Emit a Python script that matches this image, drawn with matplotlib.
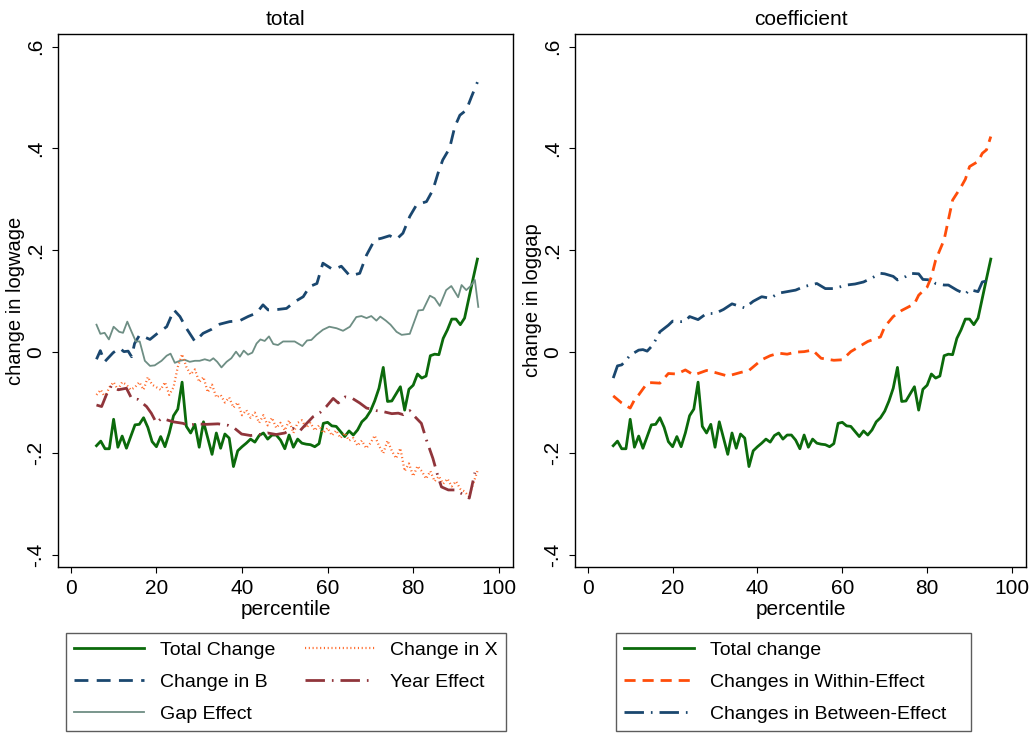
import matplotlib
matplotlib.use("Agg")
import matplotlib.pyplot as plt

plt.rcParams['font.family'] = ['Liberation Sans', 'DejaVu Sans']

# percentiles 6..95 for the dense series
pct = list(range(6, 96))

total_change = [
    -0.185, -0.176, -0.191, -0.191, -0.133, -0.188, -0.166, -0.190, -0.167, -0.144,
    -0.143, -0.130, -0.149, -0.177, -0.187, -0.167, -0.187, -0.160, -0.126, -0.113,
    -0.060, -0.147, -0.160, -0.143, -0.188, -0.138, -0.170, -0.202, -0.160, -0.190,
    -0.162, -0.170, -0.226, -0.195, -0.187, -0.180, -0.172, -0.178, -0.165, -0.160,
    -0.172, -0.164, -0.164, -0.174, -0.191, -0.164, -0.188, -0.172, -0.180, -0.182,
    -0.183, -0.187, -0.181, -0.141, -0.139, -0.146, -0.147, -0.157, -0.167, -0.156,
    -0.164, -0.154, -0.138, -0.130, -0.117, -0.097, -0.072, -0.031, -0.098, -0.097,
    -0.083, -0.069, -0.115, -0.074, -0.066, -0.044, -0.052, -0.048, -0.008, -0.005,
    -0.006, 0.026, 0.043, 0.064, 0.064, 0.053, 0.066, 0.105, 0.144, 0.182]

change_x = [
    -0.085, -0.075, -0.090, -0.070, -0.060, -0.075, -0.060, -0.065, -0.075, -0.070,
    -0.060, -0.075, -0.050, -0.065, -0.070, -0.075, -0.060, -0.085, -0.070, -0.030,
    -0.005, -0.030, -0.045, -0.035, -0.060, -0.050, -0.080, -0.065, -0.090, -0.085,
    -0.100, -0.090, -0.110, -0.100, -0.125, -0.115, -0.130, -0.120, -0.140, -0.125,
    -0.145, -0.130, -0.150, -0.140, -0.155, -0.135, -0.160, -0.140, -0.135, -0.150,
    -0.140, -0.155, -0.145, -0.160, -0.150, -0.165, -0.155, -0.170, -0.160, -0.175,
    -0.170, -0.185, -0.175, -0.190, -0.180, -0.165, -0.185, -0.200, -0.175, -0.195,
    -0.210, -0.190, -0.235, -0.220, -0.245, -0.225, -0.235, -0.250, -0.235, -0.255,
    -0.245, -0.260, -0.250, -0.265, -0.255, -0.270, -0.275, -0.285, -0.260, -0.235]

b_pct = [6, 6.9, 7.9, 9.9, 11.4, 12.4, 13.4, 14.2, 14.9, 16.1, 18.5, 20.4, 22.4, 24.1,
         25.5, 27.0, 29.0, 30.9, 32.9, 34.8, 37.1, 39.5, 41.4, 43.4, 44.9, 46.1, 48.4,
         50.4, 52.3, 54.3, 55.8, 57.5, 58.9, 61.3, 63.2, 65.2, 67.5, 69.1, 71.0, 72.6,
         74.5, 76.1, 77.6, 79.2, 80.8, 83.1, 84.6, 85.8, 86.9, 88.5, 89.7, 90.9, 92.4,
         93.6, 95]
change_b = [-0.015, 0.002, -0.020, -0.002, 0.007, 0.000, 0.001, -0.010, 0.016, 0.033,
            0.024, 0.037, 0.049, 0.082, 0.069, 0.046, 0.020, 0.036, 0.044, 0.054,
            0.059, 0.061, 0.069, 0.076, 0.092, 0.082, 0.083, 0.085, 0.098, 0.108,
            0.128, 0.134, 0.174, 0.161, 0.168, 0.149, 0.154, 0.190, 0.220, 0.223,
            0.228, 0.221, 0.233, 0.266, 0.289, 0.295, 0.318, 0.351, 0.377, 0.400,
            0.442, 0.465, 0.475, 0.501, 0.530]

gap_pct = [6.0, 6.9, 7.9, 8.9, 10.0, 11.3, 12.2, 13.2, 14.2, 15.2, 16.1, 17.3, 18.5,
           19.6, 21.2, 22.4, 23.3, 24.3, 25.5, 26.6, 27.8, 29.0, 30.1, 31.3, 32.5,
           33.3, 34.2, 35.2, 36.4, 37.5, 38.6, 39.5, 40.4, 41.4, 42.4, 43.4, 44.3,
           45.3, 46.3, 47.3, 48.4, 49.6, 51.2, 52.3, 54.1, 55.2, 56.2, 57.4, 58.9,
           60.4, 62.1, 63.6, 65.2, 66.7, 67.9, 69.1, 70.2, 71.4, 72.3, 73.6, 74.7,
           76.1, 77.3, 79.2, 81.2, 82.3, 83.9, 85.0, 86.2, 87.7, 88.9, 90.5, 91.3,
           92.4, 93.4, 94.4, 95.2]
gap_effect = [0.053, 0.035, 0.037, 0.024, 0.049, 0.039, 0.037, 0.059, 0.039, 0.020,
              0.020, -0.018, -0.028, -0.027, -0.018, -0.008, -0.004, -0.022, -0.018,
              -0.016, -0.020, -0.018, -0.018, -0.015, -0.018, -0.013, -0.020, -0.031,
              -0.020, -0.013, 0.000, -0.010, 0.002, -0.006, -0.002, 0.016, 0.024,
              0.021, 0.030, 0.015, 0.013, 0.020, 0.020, 0.020, 0.011, 0.022, 0.023,
              0.033, 0.043, 0.049, 0.046, 0.041, 0.049, 0.068, 0.070, 0.066, 0.070,
              0.061, 0.069, 0.061, 0.053, 0.039, 0.033, 0.035, 0.081, 0.082, 0.110,
              0.105, 0.090, 0.121, 0.129, 0.107, 0.131, 0.121, 0.129, 0.141, 0.088]

year_pct = [6.0, 7.2, 8.3, 9.5, 11.1, 13.0, 14.2, 15.7, 17.7, 18.8, 20.0, 21.2, 23.9,
            26.2, 27.4, 29.4, 31.7, 34.4, 36.8, 38.3, 39.9, 42.0, 44.0, 46.0, 48.0,
            50.0, 51.9, 53.5, 55.0, 56.6, 58.2, 59.7, 61.3, 62.5, 64.1, 65.8, 67.5,
            69.1, 70.2, 71.4, 73.0, 75.0, 76.5, 77.7, 79.2, 80.4, 81.9, 83.1, 84.6,
            85.8, 86.6, 88.2, 89.7, 91.5, 93.1, 94.4]
year_effect = [-0.105, -0.108, -0.085, -0.067, -0.075, -0.072, -0.092, -0.094, -0.108,
               -0.121, -0.140, -0.131, -0.138, -0.141, -0.145, -0.142, -0.143, -0.142,
               -0.145, -0.151, -0.162, -0.165, -0.163, -0.160, -0.163, -0.160, -0.151,
               -0.156, -0.142, -0.128, -0.120, -0.108, -0.092, -0.101, -0.089, -0.092,
               -0.101, -0.111, -0.113, -0.116, -0.118, -0.122, -0.121, -0.124, -0.116,
               -0.128, -0.141, -0.174, -0.210, -0.246, -0.266, -0.272, -0.272, -0.280,
               -0.288, -0.238]

within_pct = [6, 8, 10, 11, 12, 14, 15, 17, 19, 21, 23, 25, 28, 30, 33, 36, 38, 41, 43,
              45, 47, 49, 51, 53, 55, 58, 60, 62, 64, 66, 69, 70, 72, 74, 77, 78, 80,
              81, 82, 84, 85, 86, 88, 89, 90, 92, 93, 94, 95]
within_effect = [-0.087, -0.101, -0.111, -0.095, -0.085, -0.062, -0.061, -0.062, -0.043,
                 -0.044, -0.036, -0.046, -0.037, -0.041, -0.048, -0.041, -0.037, -0.016,
                 -0.008, -0.003, -0.005, -0.001, 0.000, 0.003, -0.013, -0.017, -0.016,
                 0.000, 0.010, 0.020, 0.029, 0.049, 0.069, 0.081, 0.094, 0.111, 0.127,
                 0.147, 0.180, 0.220, 0.259, 0.298, 0.324, 0.339, 0.364, 0.374, 0.390,
                 0.397, 0.423]

between_pct = [6, 7, 8, 9, 10, 12, 13, 14, 15, 16, 17, 19, 20, 22, 23, 24, 26, 28, 30,
               32, 34, 37, 39, 41, 43, 45, 47, 49, 51, 54, 56, 58, 61, 63, 65, 67, 69,
               70, 72, 73, 75, 76, 78, 79, 81, 82, 84, 85, 87, 89, 90, 92, 93, 95]
between_effect = [-0.052, -0.028, -0.026, -0.017, -0.007, 0.003, 0.004, 0.001, 0.010,
                  0.023, 0.039, 0.052, 0.060, 0.059, 0.060, 0.069, 0.063, 0.075, 0.075,
                  0.083, 0.094, 0.086, 0.099, 0.108, 0.105, 0.115, 0.118, 0.121, 0.128,
                  0.134, 0.124, 0.124, 0.131, 0.133, 0.137, 0.145, 0.154, 0.153, 0.148,
                  0.141, 0.148, 0.154, 0.153, 0.142, 0.141, 0.134, 0.131, 0.131, 0.121,
                  0.113, 0.122, 0.118, 0.137, 0.141]

GREEN = '#0b6a0b'
NAVY = '#1a476f'
TEAL = '#6e8e84'
ORANGE = '#ff4d0a'
LIGHT_ORANGE = '#ff6a2a'
MAROON = '#90353b'

yticks = [-0.4, -0.2, 0, 0.2, 0.4, 0.6]
yticklabels = ['-.4', '-.2', '0', '.2', '.4', '.6']
xticks = [0, 20, 40, 60, 80, 100]

fig = plt.figure(figsize=(10.35, 7.34), dpi=100)
ax1 = fig.add_axes([0.0560, 0.2279, 0.4396, 0.7253])
ax2 = fig.add_axes([0.5556, 0.2279, 0.4357, 0.7253])


def style_axis(ax, title, ylabel):
    ax.set_xlim(-3, 103.3)
    ax.set_ylim(-0.423, 0.624)
    ax.set_xticks(xticks)
    ax.set_yticks(yticks)
    ax.set_yticklabels(yticklabels, rotation=90, va='center')
    ax.tick_params(direction='out', length=4, width=0.8, labelsize=15, pad=5)
    ax.set_title(title, fontsize=15, pad=7)
    ax.set_xlabel('percentile', fontsize=15, labelpad=1)
    ax.set_ylabel(ylabel, fontsize=14.5, labelpad=1)
    for s in ax.spines.values():
        s.set_linewidth(1.0)


# left panel: total
ax1.plot(pct, total_change, color=GREEN, lw=2.0, label='Total Change')
ax1.plot(b_pct, change_b, color=NAVY, lw=2.0, dashes=(5, 3), label='Change in B')
ax1.plot(gap_pct, gap_effect, color=TEAL, lw=1.3, label='Gap Effect')
ax1.plot(pct, change_x, color=LIGHT_ORANGE, lw=1.6, dashes=(0.5, 1.2), label='Change in X')
ax1.plot(year_pct, year_effect, color=MAROON, lw=2.0, dashes=(7, 2.5, 0.6, 2.5), label='Year Effect')
style_axis(ax1, 'total', 'change in logwage')

# right panel: coefficient
ax2.plot(pct, total_change, color=GREEN, lw=2.0, label='Total change')
ax2.plot(within_pct, within_effect, color=ORANGE, lw=2.0, dashes=(4, 2.5), label='Changes in Within-Effect')
ax2.plot(between_pct, between_effect, color=NAVY, lw=2.0, dashes=(7, 2.5, 0.6, 2.5), label='Changes in Between-Effect')
style_axis(ax2, 'coefficient', 'change in loggap')

leg_kw = dict(fontsize=14, frameon=True, fancybox=False, handlelength=3.6,
              handletextpad=0.8, labelspacing=0.74, borderpad=0.42,
              borderaxespad=0, mode='expand', loc='upper left')
h1, l1 = ax1.get_legend_handles_labels()
leg1 = fig.legend(h1, l1, ncol=2, bbox_to_anchor=(0.0638, 0.0, 0.4252, 0.1376),
                  columnspacing=1.5, **leg_kw)
h2, l2 = ax2.get_legend_handles_labels()
leg2 = fig.legend(h2, l2, ncol=1, bbox_to_anchor=(0.5952, 0.0, 0.3430, 0.1376),
                  **leg_kw)
for lg in (leg1, leg2):
    lg.get_frame().set_edgecolor('#333333')
    lg.get_frame().set_linewidth(1.0)

fig.savefig('out.png', dpi=100)
